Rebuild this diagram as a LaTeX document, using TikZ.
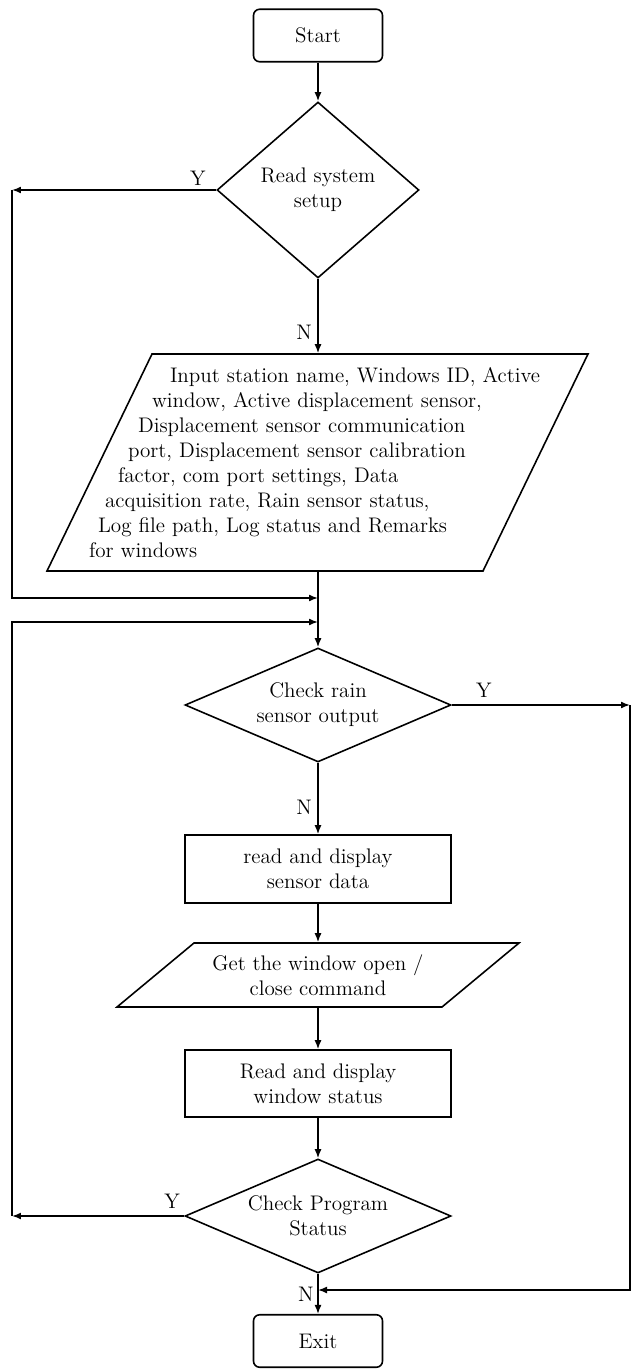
\documentclass[tikz,border=0pt]{standalone}
\usepackage{tikz}
\usetikzlibrary{arrows.meta,shapes.geometric,calc}

\begin{document}
\begin{tikzpicture}[
  x=0.02cm,y=-0.02cm,
  font=\fontsize{12}{14.2}\selectfont,>={Latex[length=1.8mm,width=1.4mm]},
  line width=0.9pt,
  term/.style={draw,rounded corners=3.5pt,minimum width=2.58cm,minimum height=1.05cm,
               inner sep=0pt},
  dec/.style={draw,diamond,inner sep=0pt,align=center,
              minimum width=5.32cm,minimum height=2.28cm},
  proc/.style={draw,minimum width=5.32cm,minimum height=1.36cm,inner sep=0pt,align=center},
  io/.style={inner sep=0pt,align=center},
  arr/.style={->},
  lbl/.style={inner sep=1pt},
]
  \useasboundingbox (0,0) rectangle (632,1371);

  \node[term] (start) at (318,35.5) {Start};
  \node[dec,shape aspect=1.15,minimum width=4.04cm,minimum height=3.52cm] (setup)
    at (318,190) {Read system\\setup};

  \node[io,text width=9.16cm,align=left,minimum height=4.34cm] (input) at (318,462.5)
    {\hspace*{1.62cm}Input station name, Windows ID, Active\\
     \hspace*{1.26cm}window, Active displacement sensor,\\
     \hspace*{0.98cm}Displacement sensor communication\\
     \hspace*{0.78cm}port, Displacement sensor calibration\\
     \hspace*{0.58cm}factor, com port settings, Data\\
     \hspace*{0.32cm}acquisition rate, Rain sensor status,\\
     \hspace*{0.18cm}Log file path, Log status and Remarks\\
     for windows};
  \draw ($(input)+(-166,-108.5)$) -- ($(input)+(270,-108.5)$)
     -- ($(input)+(165,108.5)$) -- ($(input)+(-271,108.5)$) -- cycle;

  \node[dec,shape aspect=2.33] (rain) at (318,705) {Check rain\\sensor output};
  \node[proc] (sdata) at (318,869) {read and display\\sensor data};

  \node[io,minimum width=6.5cm,minimum height=1.28cm] (cmd) at (318,975)
    {Get the window open /\\close command};
  \draw ($(cmd)+(-124,-32)$) -- ($(cmd)+(201,-32)$)
     -- ($(cmd)+(124,32)$) -- ($(cmd)+(-201,32)$) -- cycle;

  \node[proc,minimum height=1.34cm] (wstat) at (318,1083.5) {Read and display\\window status};
  \node[dec,shape aspect=2.33] (prog) at (318,1216) {Check Program\\Status};
  \node[term] (exit) at (318,1341) {Exit};

  % loop corners and merge points
  \coordinate (yl1) at (12,190);
  \coordinate (yl2) at (12,1216);
  \coordinate (yr) at (630,705);
  \coordinate (m1) at (318,598);
  \coordinate (m2) at (318,622);
  \coordinate (m3) at (318,1290);

  \draw[arr] (start) -- (setup);
  \draw[arr] (setup) -- node[lbl,pos=0.72,left=2pt] {N} (input);
  \draw[arr] (input) -- (rain);
  \draw[arr] (rain) -- node[lbl,pos=0.62,left=2pt] {N} (sdata);
  \draw[arr] (sdata) -- (cmd);
  \draw[arr] (cmd) -- (wstat);
  \draw[arr] (wstat) -- (prog);
  \draw[arr] (prog) -- node[lbl,pos=0.52,left=1pt] {N} (exit);

  \draw[arr] (setup.west) -- node[lbl,pos=0.09,above=1pt] {Y} (yl1);
  \draw[arr] (yl1) |- (m1);
  \draw[arr] (prog.west) -- node[lbl,pos=0.07,above=3pt] {Y} (yl2);
  \draw[arr] (yl2) |- (m2);
  \draw[arr] (rain.east) -- node[lbl,pos=0.18,above=3pt] {Y} (yr);
  \draw[arr] (yr) |- (m3);
\end{tikzpicture}
\end{document}
